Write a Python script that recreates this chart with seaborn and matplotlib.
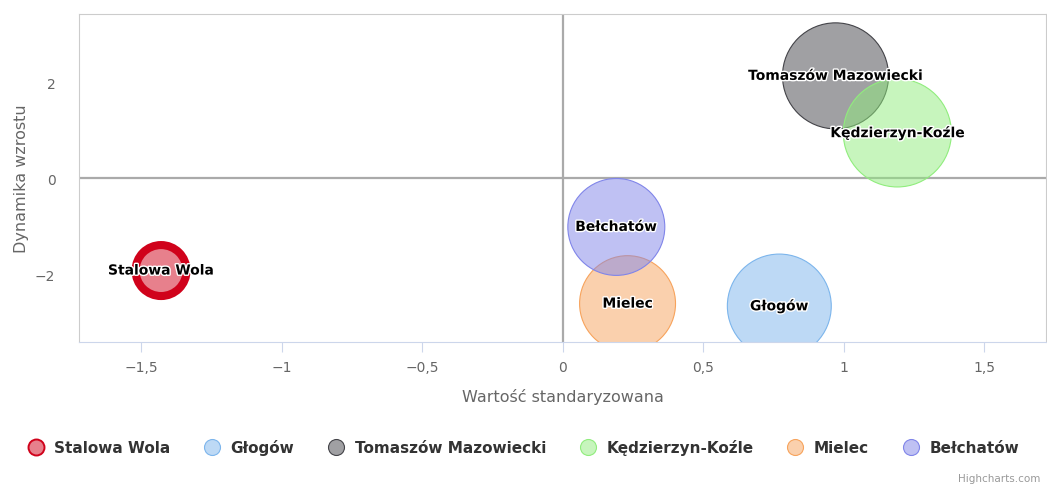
import matplotlib
matplotlib.use("Agg")
import matplotlib.pyplot as plt
import matplotlib.patheffects as pe
from matplotlib.colors import to_rgba
from matplotlib.lines import Line2D
import seaborn as sns
import pandas as pd

# dane
miasta = ["Stalowa Wola", "Głogów", "Tomaszów Mazowiecki",
          "Kędzierzyn-Koźle", "Mielec", "Bełchatów"]
wartosc = [-1.43, 0.77, 0.97, 1.19, 0.23, 0.19]
dynamika = [-1.92, -2.66, 2.14, 0.95, -2.61, -1.01]
wielkosc = [6.5, 27.0, 28.1, 29.2, 23.0, 23.5]
x_ticks = [-1.5, -1, -0.5, 0, 0.5, 1, 1.5]
y_ticks = [-2, 0, 2]

KOLORY = ["#d0021b", "#7cb5ec", "#434348", "#90ed7d", "#f7a35c", "#8085e9"]
GRUBOSC = [5.8, 0.8, 0.8, 0.8, 0.8, 0.8]


def fmt(v):
    return f"{v:g}".replace(".", ",").replace("-", "\u2212")


sns.set_style("white")
plt.rcParams["font.family"] = ["DejaVu Sans"]

df = pd.DataFrame({"miasto": miasta, "x": wartosc, "y": dynamika, "z": wielkosc})
paleta = {m: to_rgba(c, 0.5) for m, c in zip(miasta, KOLORY)}

fig = plt.figure(figsize=(10.47, 4.85), dpi=100)
ax = fig.add_axes([79 / 1047, 1 - 343 / 485, 967 / 1047, 328 / 485])

ax.axhline(0, color="#aaaaaa", lw=1.6, zorder=1)
ax.axvline(0, color="#aaaaaa", lw=1.6, zorder=1)

sns.scatterplot(data=df, x="x", y="y", hue="miasto", palette=paleta,
                size="z", sizes=(0, 20736), size_norm=(0, 100),
                edgecolor=KOLORY, linewidth=GRUBOSC, legend=False,
                ax=ax, zorder=2)

for m, x, y in zip(miasta, wartosc, dynamika):
    ax.text(x, y, m, ha="center", va="center", fontsize=10,
            fontweight="bold", color="black", zorder=5,
            path_effects=[pe.withStroke(linewidth=2, foreground="white")])

ax.set_xlim(-1.722, 1.719)
ax.set_ylim(-3.41, 3.43)
ax.set_xticks(x_ticks)
ax.set_xticklabels([fmt(v) for v in x_ticks])
ax.set_yticks(y_ticks)
ax.set_yticklabels([fmt(v) for v in y_ticks])
ax.tick_params(axis="x", length=7, width=0.8, color="#ccd6eb", pad=6,
               labelsize=10, labelcolor="#666666", bottom=True)
ax.tick_params(axis="y", length=0, pad=17, labelsize=10, labelcolor="#666666")

for s in ["top", "left", "right"]:
    ax.spines[s].set_color("#cccccc")
    ax.spines[s].set_linewidth(0.8)
ax.spines["bottom"].set_color("#ccd6eb")
ax.spines["bottom"].set_linewidth(0.8)

ax.set_xlabel("Wartość standaryzowana", fontsize=11.5, color="#666666", labelpad=10)
ax.set_ylabel("Dynamika wzrostu", fontsize=11.5, color="#666666", labelpad=4)

uchwyty = [Line2D([], [], marker="o", ls="", markersize=11.5,
                  markerfacecolor=to_rgba(c, 0.5), markeredgecolor=c,
                  markeredgewidth=1.4 if i == 0 else 0.8)
           for i, c in enumerate(KOLORY)]
fig.legend(uchwyty, miasta, loc="center", bbox_to_anchor=(0.5, 1 - 448 / 485),
           ncol=6, frameon=False, handlelength=1.0, handletextpad=0.7,
           columnspacing=2.25, prop={"size": 11, "weight": "bold"},
           labelcolor="#333333")

fig.text(1040 / 1047, 1 - 479 / 485, "Highcharts.com", ha="right",
         va="center", fontsize=7.5, color="#999999")

fig.savefig("out.png", dpi=100)
